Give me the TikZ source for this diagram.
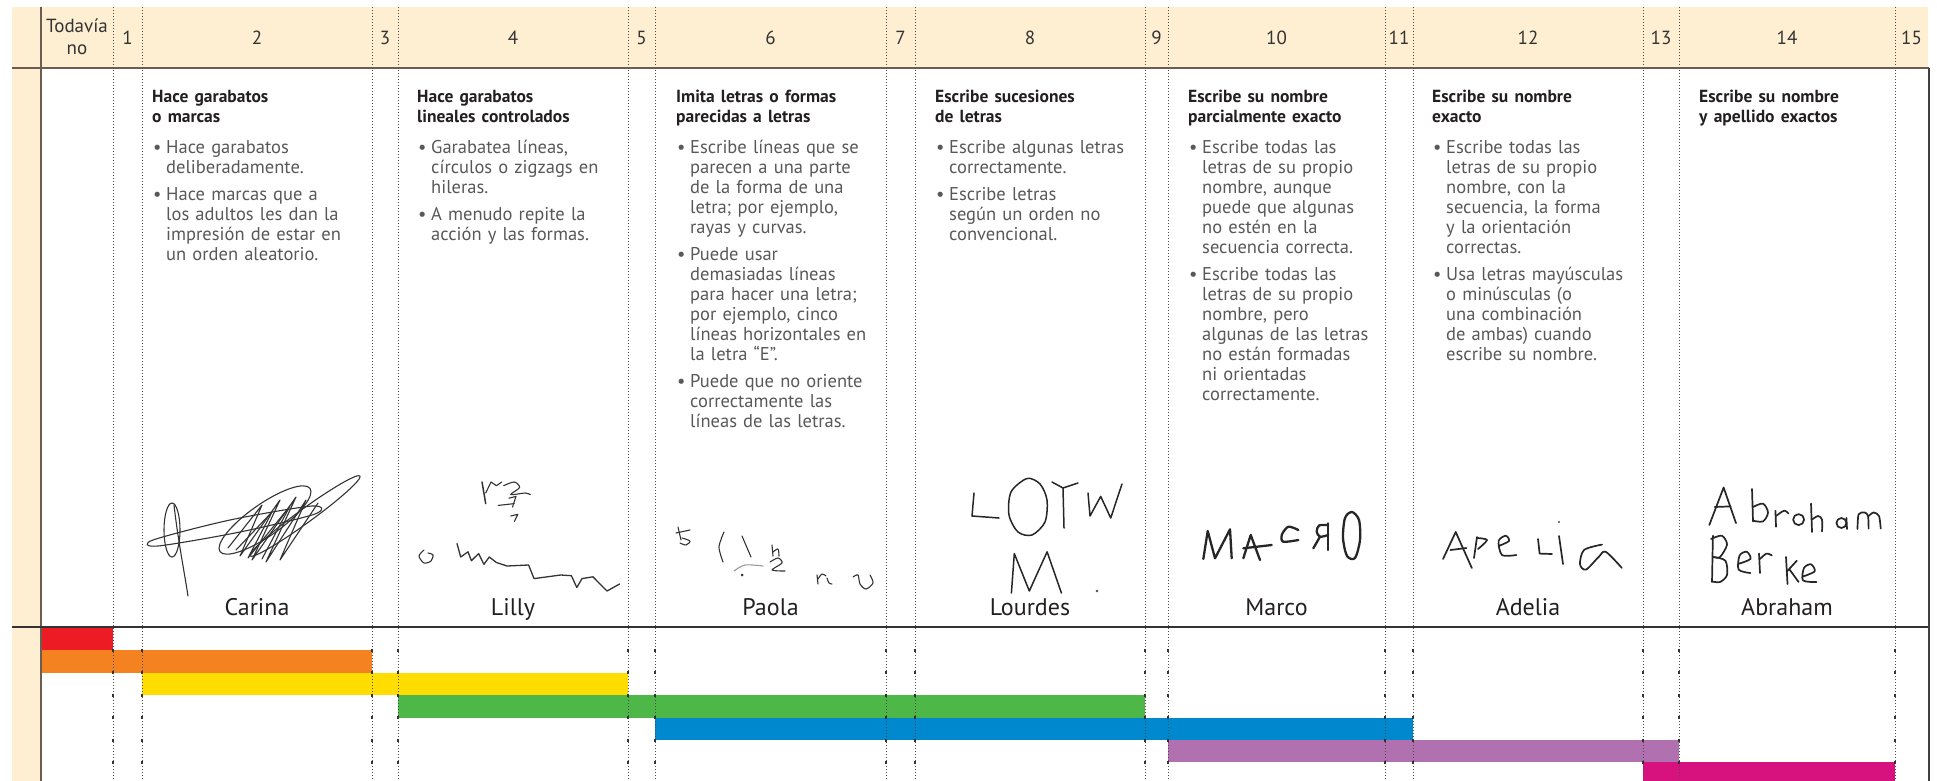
\documentclass[tikz,border=0pt]{standalone}
\usepackage{fontspec}
\setmainfont{PT Sans}
\definecolor{beige}{HTML}{FEEFD2}
\definecolor{brownline}{HTML}{6B5D4F}
\definecolor{ink}{HTML}{231F20}
\definecolor{body}{HTML}{58585A}
\definecolor{barred}{HTML}{ED1C24}
\definecolor{barorange}{HTML}{F58220}
\definecolor{baryellow}{HTML}{FFDD00}
\definecolor{bargreen}{HTML}{4DB848}
\definecolor{barblue}{HTML}{0088CE}
\definecolor{barpurple}{HTML}{B170AF}
\definecolor{barmagenta}{HTML}{D7127E}
\newcommand{\ttl}[1]{\noindent{\fontsize{17.5}{20}\selectfont\bfseries\color{ink}\begin{tabular}[t]{@{}l@{}}#1\end{tabular}}\par\vspace{10pt}}
\newcommand{\bul}[1]{\noindent\makebox[14pt][l]{\hspace{1pt}•}\begin{tabular}[t]{@{}l@{}}#1\end{tabular}\par\vspace{6pt}}
\begin{document}
\begin{tikzpicture}[x=1pt, y=-1pt,
  sep/.style = {draw=black!70, line width=1pt, dash pattern=on 1pt off 2pt},
  tick/.style = {draw=black!80, line width=1.3pt},
  hdr/.style = {anchor=base, inner sep=0, text=black!80, font=\fontsize{19}{21.7}\selectfont},
  txt/.style = {anchor=north west, inner sep=0, text width=230pt, align=left, text=body, font=\fontsize{18.5}{20}\selectfont},
  kid/.style = {anchor=base, inner sep=0, text=ink, font=\fontsize{24}{28}\selectfont},
  hand/.style = {draw=black!85, line width=1.7pt, line cap=round, line join=round},
  scrib/.style = {draw=black!80, line width=1.1pt, line cap=round, line join=round}]
  \useasboundingbox (0,0) rectangle (1937,781);
  \clip (0,0) rectangle (1937,781);
  \fill[beige] (12,7) rectangle (1928,68);
  \fill[beige] (12,68) rectangle (40,781);
  \fill[barred] (41,627) rectangle (113,650);
  \fill[barorange] (41,650) rectangle (372,672.5);
  \fill[baryellow] (142,672.5) rectangle (628,695);
  \fill[bargreen] (398,695) rectangle (1145,717.5);
  \fill[barblue] (655,717.5) rectangle (1413,740);
  \fill[barpurple] (1168,740) rectangle (1679,762);
  \fill[barmagenta] (1643,762) rectangle (1895,785);
  \foreach \x in {113,142,372,398,628,655,886,915,1145,1168,1385,1413,1643,1679,1895} {
    \draw[sep] (\x,7) -- (\x,781);
    \foreach \y in {650,672.5,695,717.5,740,762} \draw[tick] (\x,\y-1.5) -- (\x,\y+1.5);
  }
  \draw[brownline, line width=2pt] (12,68) -- (1929,68);
  \draw[brownline, line width=2pt] (41,7) -- (41,781);
  \draw[black!80, line width=2pt] (12,627) -- (1929,627);
  \draw[black!75, line width=1.5pt] (1929,68) -- (1929,781);

  \node[hdr] (h0) at (77,33) {\begin{tabular}[t]{@{}c@{}}Todavía\\no\end{tabular}};
  \node[hdr] (h1) at (127.5,45) {1};
  \node[hdr] (h2) at (257,45) {2};
  \node[hdr] (h3) at (385,45) {3};
  \node[hdr] (h4) at (513,45) {4};
  \node[hdr] (h5) at (641.5,45) {5};
  \node[hdr] (h6) at (770.5,45) {6};
  \node[hdr] (h7) at (900.5,45) {7};
  \node[hdr] (h8) at (1030,45) {8};
  \node[hdr] (h9) at (1156.5,45) {9};
  \node[hdr] (h10) at (1276.5,45) {10};
  \node[hdr] (h11) at (1399,45) {11};
  \node[hdr] (h12) at (1528,45) {12};
  \node[hdr] (h13) at (1661,45) {13};
  \node[hdr] (h14) at (1787,45) {14};
  \node[hdr] (h15) at (1911.5,45) {15};

  \node[txt] (t2) at (152,88) {\ttl{Hace garabatos\\o marcas}\bul{Hace garabatos\\deliberadamente.}\bul{Hace marcas que a\\los adultos les dan la\\impresión de estar en\\un orden aleatorio.}};
  \node[txt] (t4) at (417,88) {\ttl{Hace garabatos\\lineales controlados}\bul{Garabatea líneas,\\círculos o zigzags en\\hileras.}\bul{A menudo repite la\\acción y las formas.}};
  \node[txt] (t6) at (676,88) {\ttl{Imita letras o formas\\parecidas a letras}\bul{Escribe líneas que se\\parecen a una parte\\de la forma de una\\letra; por ejemplo,\\rayas y curvas.}\bul{Puede usar\\demasiadas líneas\\para hacer una letra;\\por ejemplo, cinco\\líneas horizontales en\\la letra “E”.}\bul{Puede que no oriente\\correctamente las\\líneas de las letras.}};
  \node[txt] (t8) at (935,88) {\ttl{Escribe sucesiones\\de letras}\bul{Escribe algunas letras\\correctamente.}\bul{Escribe letras\\según un orden no\\convencional.}};
  \node[txt] (t10) at (1188,88) {\ttl{Escribe su nombre\\parcialmente exacto}\bul{Escribe todas las\\letras de su propio\\nombre, aunque\\puede que algunas\\no estén en la\\secuencia correcta.}\bul{Escribe todas las\\letras de su propio\\nombre, pero\\algunas de las letras\\no están formadas\\ni orientadas\\correctamente.}};
  \node[txt] (t12) at (1432,88) {\ttl{Escribe su nombre\\exacto}\bul{Escribe todas las\\letras de su propio\\nombre, con la\\secuencia, la forma\\y la orientación\\correctas.}\bul{Usa letras mayúsculas\\o minúsculas (o\\una combinación\\de ambas) cuando\\escribe su nombre.}};
  \node[txt] (t14) at (1699,88) {\ttl{Escribe su nombre\\y apellido exactos}};

  \node[kid] (n2) at (257,615) {Carina};
  \node[kid] (n4) at (513,615) {Lilly};
  \node[kid] (n6) at (770.5,615) {Paola};
  \node[kid] (n8) at (1030,615) {Lourdes};
  \node[kid] (n10) at (1276.5,615) {Marco};
  \node[kid] (n12) at (1528,615) {Adelia};
  \node[kid] (n14) at (1787,615) {Abraham};

  \draw[scrib] (172,530) ellipse [x radius=8, y radius=27];
  \draw[scrib] (174,505) .. controls (178,540) and (184,570) .. (188,596);
  \draw[scrib] plot[smooth cycle] coordinates {(153,540) (230,520) (312,506) (315,514) (240,532) (158,546)};
  \draw[scrib, rotate around={35:(265,520)}] (265,520) ellipse [x radius=55, y radius=16];
  \draw[scrib, rotate around={36:(305,516)}] (305,516) ellipse [x radius=68, y radius=7];
  \draw[scrib] plot coordinates {(228,548) (262,505) (240,556) (280,500) (252,560) (296,497) (266,562) (306,500) (280,560) (318,503)};
  \draw[scrib] plot coordinates {(236,550) (272,512) (248,558) (290,506) (262,559)};

  \draw[scrib, line width=1.3pt] plot coordinates {(457,543.6) (460.7,557) (468,551.8) (471.4,560.7) (478.6,553.6) (483.9,564.3) (489.3,557) (496.4,562.5) (507,566) (528.6,565) (534,578.6) (560.7,575) (571.4,575.7) (576.8,587.5) (582,578.6) (592.9,576.8) (607,591) (619.6,584)};
  \draw[scrib] plot[smooth] coordinates {(424,550) (419,556) (424,563) (431,561) (433,555) (428,553)};
  \draw[scrib, line width=1.5pt] (482,482) -- (485.7,503.6);
  \draw[scrib] (485.7,493) -- (491,482) -- (496.4,485.7) -- (501.8,482);
  \draw[scrib] plot[smooth] coordinates {(503.6,485.7) (514.3,482) (519.6,487.5) (510.7,494.6) (525,493) (530.4,494.6)};
  \draw[scrib] (498.2,505.4) -- (514.3,503.6);
  \draw[scrib] (508.9,498.2) -- (516,496.4) -- (512.5,507);
  \draw[scrib] (510.7,516) -- (517.9,514.3) -- (514.3,521.4);

  \draw[scrib] (678,527) -- (681,540);
  \draw[scrib] (676,533) -- (690,530);
  \draw[scrib] plot[smooth] coordinates {(682,538) (690,541) (686,545) (680,543)};
  \draw[scrib] plot[smooth] coordinates {(724,532) (719,547) (723,562)};
  \draw[scrib] (742,536) -- (751,557);
  \draw[scrib] (772,545) -- (773,556);
  \draw[scrib] plot[smooth] coordinates {(773,552) (778,549) (779,556)};
  \draw[scrib] plot[smooth] coordinates {(770,562) (778,558) (782,563) (772,570) (785,571)};
  \draw[scrib, black!40] plot[smooth] coordinates {(734,571) (745,565) (763,566)};
  \fill[black!80] (742,575) circle [radius=1.5];
  \draw[scrib] (817,575) -- (818,584);
  \draw[scrib] plot[smooth] coordinates {(818,579) (822,574) (826,576)};
  \draw[scrib] plot[smooth] coordinates {(827,578) (829,583) (832,584)};
  \draw[scrib] plot[smooth] coordinates {(853,577) (858,575) (860,584) (866,589) (873,583) (870,575)};

  \draw[hand, line width=1.5pt] (974,493) -- (972,516) -- (999,518);
  \draw[hand, line width=1.5pt] plot[smooth cycle] coordinates {(1027,478.5) (1040,484) (1047,500) (1045,522) (1032,535) (1018,532) (1009,515) (1011,492)};
  \draw[hand, line width=1.5pt] (1052,482) -- (1063,488) -- (1078,483);
  \draw[hand, line width=1.5pt] (1063,488) -- (1064,528);
  \draw[hand, line width=1.5pt] (1088,493) -- (1090,516) -- (1100.7,496.4) -- (1110.7,518) -- (1122,484);
  \draw[hand, line width=1.5pt] (1011.4,593) -- (1014.3,553.6) -- (1029.3,591) -- (1047.1,551.8) -- (1061.4,593);
  \fill[black!70] (1097,591) circle [radius=1.3];

  \draw[hand, line width=2.3pt] (1203.3,559) -- (1207.7,531) -- (1215,558.3) -- (1230,529.3) -- (1231.7,558.3);
  \draw[hand, line width=2.3pt] (1243.3,558.3) -- (1250.7,535) -- (1260,560);
  \draw[hand, line width=2.3pt] (1243.3,548.3) -- (1271.7,545);
  \draw[hand, line width=2.3pt] plot[smooth] coordinates {(1298.3,530) (1288.3,526.7) (1281.7,535) (1283.3,541.7) (1298.3,540)};
  \draw[hand, line width=2.3pt] (1328.3,523.3) -- (1328.3,550);
  \draw[hand, line width=2.3pt] plot[smooth] coordinates {(1328.3,525) (1319,525.5) (1316.7,531.7) (1320,536.7) (1328.3,535)};
  \draw[hand, line width=2.3pt] (1320,536.7) -- (1313.3,548.3);
  \draw[hand, line width=2.3pt] plot[smooth cycle] coordinates {(1352,512) (1359,520) (1360,540) (1355,558) (1347,556) (1343,538) (1345,518)};

  \draw[hand] (1443,559) -- (1455.7,532) -- (1471.8,568);
  \draw[hand] (1450.4,550) -- (1466.4,548);
  \draw[hand] (1477,537) -- (1474,558);
  \draw[hand] plot[smooth] coordinates {(1477,538) (1487,540) (1478,549)};
  \draw[hand] plot[smooth] coordinates {(1498.6,546) (1509,541) (1505.7,535.7) (1498.6,541) (1502,555) (1516.4,555)};
  \draw[hand] (1538,539) -- (1539.6,553.6) -- (1552,554);
  \draw[hand] (1559,536) -- (1563,564);
  \fill[black!70] (1559,522) circle [radius=1.2];
  \draw[hand] plot[smooth] coordinates {(1602,544.6) (1584,550) (1580,564.3) (1586,569.6) (1598.6,557) (1605.7,551.8) (1621.8,567.9)};

  \draw[hand] (1709.3,525) -- (1723.6,487.5) -- (1736,523.2);
  \draw[hand] (1714.6,507) -- (1730.7,506.4);
  \draw[hand] (1752,489) -- (1753,521.4);
  \draw[hand] plot[smooth] coordinates {(1753,507) (1763,503.6) (1768,512.5) (1763,521.4) (1753,520.7)};
  \draw[hand] (1775.4,510.7) -- (1776,526.8);
  \draw[hand] plot[smooth] coordinates {(1776,516) (1784,510.7) (1788.6,513.6)};
  \draw[hand] (1798.6,519.6) circle [radius=5.5];
  \draw[hand] (1811,503.6) -- (1812,532);
  \draw[hand] plot[smooth] coordinates {(1812,519.6) (1818,516) (1822,519.6) (1822,531.4)};
  \draw[hand] (1841.4,523) circle [radius=5];
  \draw[hand] (1846.4,517.9) -- (1847,529);
  \draw[hand] plot[smooth] coordinates {(1857.5,529) (1858.6,514.3) (1864.6,512.5) (1868,516) (1868.6,528.6)};
  \draw[hand] plot[smooth] coordinates {(1868.6,516) (1873.6,512.5) (1879,516) (1880.7,528.6)};
  \draw[hand] (1712.9,535.7) -- (1712,582);
  \draw[hand] plot[smooth] coordinates {(1711,539) (1721.8,535.7) (1727,544.6) (1720,557) (1713.6,557)};
  \draw[hand] plot[smooth] coordinates {(1713.6,557) (1725.4,560.7) (1727,575) (1720,582) (1712,581.4)};
  \draw[hand] plot[smooth] coordinates {(1737.9,564) (1750.4,559) (1746.8,551.8) (1739.6,555.4) (1738.6,569.6) (1750.4,573)};
  \draw[hand] (1759,553.6) -- (1760,573);
  \draw[hand] plot[smooth] coordinates {(1760,559) (1766.4,553.6) (1771.8,555.4)};
  \draw[hand] (1786,557) -- (1787.5,584);
  \draw[hand] (1787,571.4) -- (1796.8,560.7);
  \draw[hand] (1789.6,569.6) -- (1798.6,582);
  \draw[hand] plot[smooth] coordinates {(1802,576.8) (1814.6,571.4) (1811,564.3) (1804,567.9) (1803,580.4) (1816.4,582)};
\end{tikzpicture}
\end{document}
